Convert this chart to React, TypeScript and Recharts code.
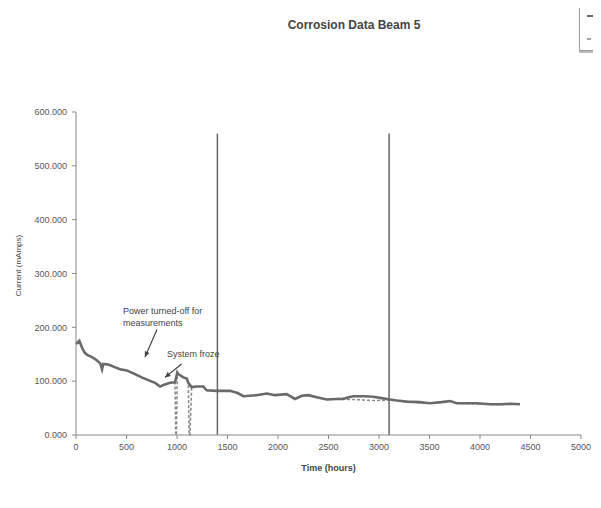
import React from 'react';
import {
  LineChart,
  Line,
  XAxis,
  YAxis,
  ReferenceLine,
  ReferenceDot,
  Legend,
} from 'recharts';

const hours = [
  0, 33, 60, 89, 120, 155, 205, 240, 258, 270, 320, 370, 436, 502, 584, 650, 716, 782, 832, 881,
  931, 980, 988, 994, 1003, 1013, 1063, 1096, 1112, 1120, 1128, 1145, 1195, 1260, 1294, 1393,
  1525, 1600, 1657, 1789, 1888, 1970, 2086, 2168, 2235, 2300, 2383, 2482, 2581, 2647, 2700,
  2746, 2850, 2944, 3010, 3109, 3175, 3274, 3400, 3505, 3620, 3703, 3769, 3967, 4099, 4200,
  4300, 4396,
];

const seriesSolid: (number | null)[] = [
  169, 175, 162, 152, 148, 145, 139, 133, 122, 132, 131, 127, 122, 120, 113, 107, 102, 97, 90, 94,
  97, 98, null, null, 116, 113, 107, 105, 97, null, null, 89, 90, 90, 83, 82,
  82, 78, 72, 74, 77, 74, 76, 67, 73, 74, 70, 66, 67, 67, 70,
  72, 72, 71, 69, 66, 64, 62, 61, 59, 61, 63, 59, 59, 57, 57,
  58, 57,
];

const seriesDashed: (number | null)[] = [
  169, 175, 162, 152, 148, 145, 139, 133, 122, 132, 131, 127, 122, 120, 113, 107, 102, 97, 90, 94,
  97, 98, 0, 0, 116, 113, 107, 105, 97, 0, 0, 89, 90, 90, 83, 82,
  82, 78, 72, 74, 77, 74, 76, 67, 73, 74, 70, 66, 67, 68, 66,
  66, 65, 64, 64, 65, 64, 62, 60, 59, 61, 63, 59, 58, 57, 56,
  57, 57,
];

const markerHours = [1400, 3100];
const markerTop = 560;

const xTicks = [0, 500, 1000, 1500, 2000, 2500, 3000, 3500, 4000, 4500, 5000];
const yTicks = [0, 100, 200, 300, 400, 500, 600];

const seriesNames = ['Series1', 'Series2'];

const data = hours.map((h, i) => ({ h, a: seriesSolid[i], b: seriesDashed[i] }));

const FONT = '"Liberation Sans", Arial, sans-serif';

const arrowShape = (p: any) => {
  const { x1, y1, x2, y2 } = p;
  const ang = Math.atan2(y2 - y1, x2 - x1);
  const L = 6;
  const w = 0.45;
  const ax = x2 - L * Math.cos(ang - w);
  const ay = y2 - L * Math.sin(ang - w);
  const bx = x2 - L * Math.cos(ang + w);
  const by = y2 - L * Math.sin(ang + w);
  return (
    <g>
      <line x1={x1} y1={y1} x2={x2} y2={y2} stroke="#444" strokeWidth={1.2} />
      <polygon points={`${x2},${y2} ${ax},${ay} ${bx},${by}`} fill="#444" />
    </g>
  );
};

const textShape = (lines: string[]) => (p: any) => (
  <text x={p.cx} y={p.cy} fontSize={9} fill="#444" fontFamily={FONT}>
    {lines.map((t, i) => (
      <tspan key={i} x={p.cx} dy={i === 0 ? 3 : 12}>
        {t}
      </tspan>
    ))}
  </text>
);

const legendContent = () => (
  <div
    style={{
      width: 40,
      height: 46,
      border: '1px solid #999',
      boxShadow: '0 2px 0 #bbb',
      background: '#fff',
      position: 'relative',
    }}
  >
    <svg width={40} height={46} style={{ position: 'absolute', left: 0, top: 0 }}>
      <line x1={7} x2={22} y1={12} y2={12} stroke="#666" strokeWidth={2} />
      <line x1={7} x2={22} y1={35} y2={35} stroke="#888" strokeWidth={1.5} strokeDasharray="4 2" />
    </svg>
  </div>
);

export default function App() {
  return (
    <div style={{ position: 'relative', width: 593, height: 500 }}>
      <div
        style={{
          position: 'absolute',
          left: 0,
          width: 692,
          top: 10,
          textAlign: 'center',
          fontFamily: FONT,
          fontWeight: 'bold',
          fontSize: 12,
          color: '#444',
        }}
      >
        Corrosion Data Beam 5
      </div>
      <LineChart
        width={593}
        height={500}
        data={data}
        margin={{ top: 52, right: 20, left: 8, bottom: 33 }}
      >
        <XAxis
          dataKey="h"
          type="number"
          domain={[0, 5000]}
          ticks={xTicks}
          interval={0}
          tickSize={4}
          tickMargin={5}
          stroke="#888"
          tick={{ fontSize: 9, fill: '#555', fontFamily: FONT }}
          height={40}
          label={{
            content: (p: any) => (
              <text
                x={p.viewBox.x + p.viewBox.width / 2}
                y={p.viewBox.y + 36}
                textAnchor="middle"
                fontSize={9}
                fontWeight="bold"
                fill="#444"
                fontFamily={FONT}
              >
                Time (hours)
              </text>
            ),
          }}
        />
        <YAxis
          type="number"
          domain={[0, 600]}
          ticks={yTicks}
          interval={0}
          width={60}
          tickSize={4}
          tickMargin={5}
          stroke="#888"
          tickFormatter={(v: number) => v.toFixed(3)}
          tick={{ fontSize: 9, fill: '#555', fontFamily: FONT }}
          label={{
            content: (p: any) => {
              const cx = p.viewBox.x + 2;
              const cy = p.viewBox.y + p.viewBox.height / 2 - 8;
              return (
                <text
                  x={cx}
                  y={cy}
                  transform={`rotate(-90 ${cx} ${cy})`}
                  textAnchor="middle"
                  dominantBaseline="central"
                  fontSize={8}
                  fill="#444"
                  fontFamily={FONT}
                >
                  Current (mAmps)
                </text>
              );
            },
          }}
        />
        <Legend
          verticalAlign="top"
          align="right"
          content={legendContent}
          wrapperStyle={{ position: 'absolute', left: 571, top: -5, width: 22, overflow: 'hidden', height: 52 }}
        />
        {markerHours.map((m) => (
          <ReferenceLine
            key={m}
            segment={[
              { x: m, y: 0 },
              { x: m, y: markerTop },
            ]}
            stroke="#666"
            strokeWidth={1.5}
          />
        ))}
        <Line
          name={seriesNames[1]}
          dataKey="b"
          type="linear"
          stroke="#8a8a8a"
          strokeWidth={1.6}
          strokeDasharray="3 2"
          dot={false}
          connectNulls
          isAnimationActive={false}
        />
        <Line
          name={seriesNames[0]}
          dataKey="a"
          type="linear"
          stroke="#6a6a6a"
          strokeWidth={2.6}
          dot={false}
          connectNulls
          isAnimationActive={false}
        />
        <ReferenceLine
          segment={[
            { x: 802, y: 196 },
            { x: 683, y: 145 },
          ]}
          shape={arrowShape}
        />
        <ReferenceLine
          segment={[
            { x: 1046, y: 132 },
            { x: 881, y: 107 },
          ]}
          shape={arrowShape}
        />
        <ReferenceDot x={465} y={231} r={0} shape={textShape(['Power turned-off for', 'measurements'])} />
        <ReferenceDot x={901} y={151} r={0} shape={textShape(['System froze'])} />
      </LineChart>
    </div>
  );
}
